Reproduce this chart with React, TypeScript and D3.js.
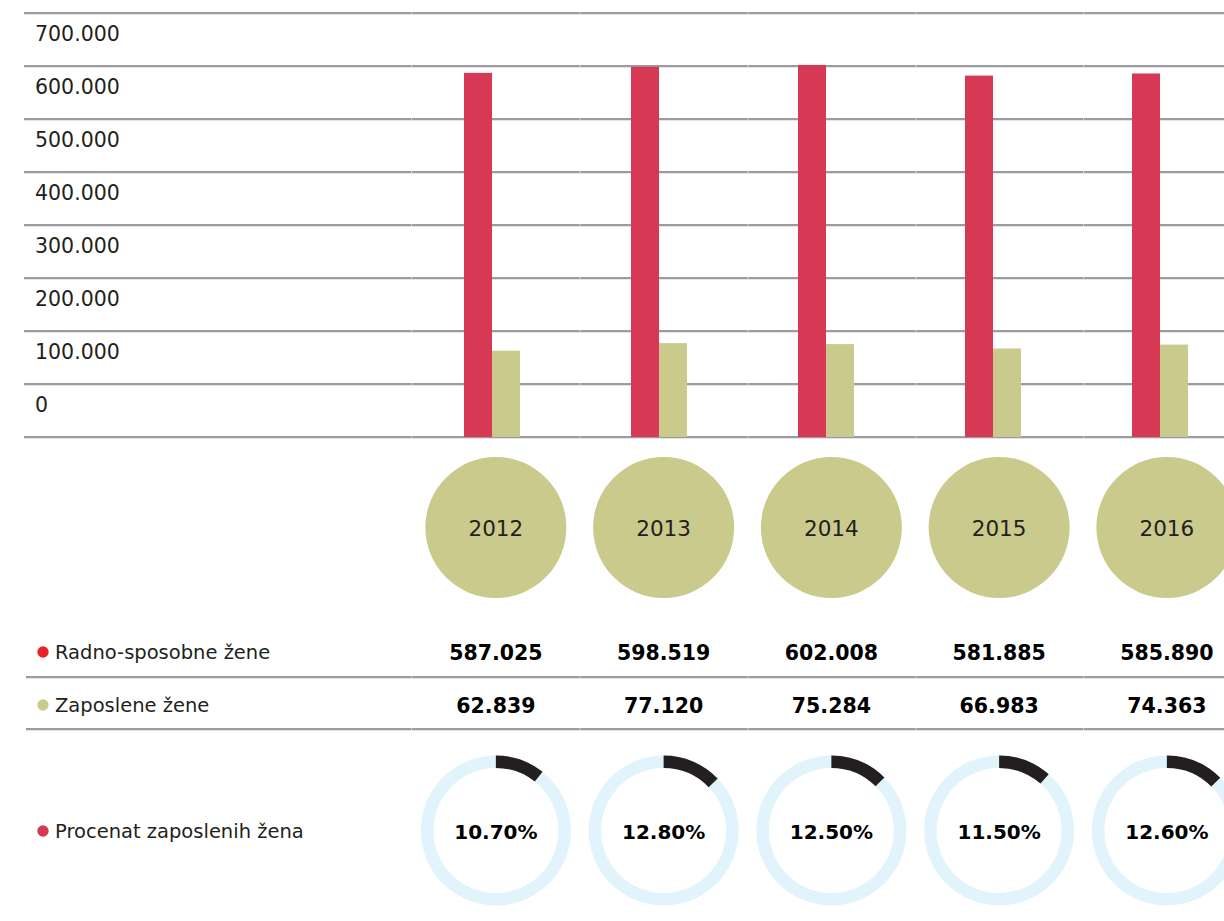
import React from "react";
import * as d3 from "d3";

const years = ["2012", "2013", "2014", "2015", "2016"];
const workingAge = [587025, 598519, 602008, 581885, 585890];
const employed = [62839, 77120, 75284, 66983, 74363];
const percentEmployed = [10.7, 12.8, 12.5, 11.5, 12.6];
const yTicks = [700000, 600000, 500000, 400000, 300000, 200000, 100000, 0, -100000];
const rowLabels = ["Radno-sposobne žene", "Zaposlene žene", "Procenat zaposlenih žena"];
const rowDotColors = ["#e8212b", "#c9ca8c", "#d63852"];

const W = 1224;
const H = 921;
const FONT = "'DejaVu Sans', sans-serif";
const GRID = "#9c9ca0";
const GRID_LIGHT = "#e4e4e6";
const RED = "#d73853";
const KHAKI = "#c9ca8c";
const RING = "#e1f3fb";
const DARK = "#231f20";

const loc = d3.formatLocale({ decimal: ",", thousands: ".", grouping: [3], currency: ["", ""] });
const fmt = loc.format(",");
const fmtPct = (v: number) => v.toFixed(2) + "%";

export default function App() {
  const y = d3.scaleLinear().domain([-100000, 700000]).range([437, 13]);
  const barBand = d3.scaleBand().domain(years).range([408.5, 408.5 + 167 * years.length]).padding(0);
  const col = d3.scaleBand().domain(years).range([412, 412 + 167.75 * years.length]).padding(0);
  const barW = 28;
  const base = y(-100000);

  const colBounds = [col.range()[0] - 1, ...years.map((yr) => (col(yr) as number) + col.bandwidth())];

  const hLine = (yy: number, x0: number, key: string) => (
    <g key={key}>
      <rect x={x0} y={yy - 1} width={W - x0} height={2} fill={GRID} />
      <rect x={x0} y={yy + 1} width={W - x0} height={1} fill={GRID_LIGHT} />
      {colBounds.map((b, i) => (
        <rect key={i} x={b} y={yy - 1} width={1} height={2} fill="#cfcfd2" />
      ))}
    </g>
  );

  const arcOuter = 75;
  const arcInner = 62.5;
  const ringArc = d3.arc<any>().innerRadius(arcInner).outerRadius(arcOuter).startAngle(0).endAngle(2 * Math.PI);
  const pctScale = d3.scaleLinear().domain([0, 100]).range([0, 2 * Math.PI]);

  const rowY = [652, 705, 831];
  const rowLines = [677, 729];

  return (
    <svg width={W} height={H} style={{ position: "absolute", left: 0, top: 0, background: "#fff" }}>
      <rect width={W} height={H} fill="#fff" />
      {/* gridlines */}
      {yTicks.map((t) => hLine(y(t), 24, "g" + t))}
      {/* axis labels */}
      {yTicks
        .filter((t) => t >= 0)
        .map((t) => (
          <text key={"l" + t} x={35} y={y(t) + 27.5} fontFamily={FONT} fontSize={20.5} fill={DARK}>
            {fmt(t)}
          </text>
        ))}
      {/* bars */}
      {years.map((yr, i) => {
        const c = (barBand(yr) as number) + barBand.bandwidth() / 2;
        return (
          <g key={"b" + yr}>
            <rect x={c - barW} y={y(workingAge[i])} width={barW} height={base - y(workingAge[i])} fill={RED} />
            <rect x={c} y={y(employed[i])} width={barW} height={base - y(employed[i])} fill={KHAKI} />
          </g>
        );
      })}
      {/* year circles */}
      {years.map((yr) => {
        const c = (col(yr) as number) + col.bandwidth() / 2;
        return (
          <g key={"c" + yr}>
            <circle cx={c} cy={527.5} r={70.5} fill={KHAKI} />
            <text x={c} y={535.5} textAnchor="middle" fontFamily={FONT} fontSize={21.5} fill={DARK}>
              {yr}
            </text>
          </g>
        );
      })}
      {/* table lines */}
      {rowLines.map((ly, i) => hLine(ly, 26, "r" + i))}
      {/* row labels */}
      {rowLabels.map((lab, i) => (
        <g key={"rl" + i}>
          <circle cx={43} cy={rowY[i]} r={5.7} fill={rowDotColors[i]} />
          <text x={55} y={rowY[i] + 7} fontFamily={FONT} fontSize={19.5} fill={DARK}>
            {lab}
          </text>
        </g>
      ))}
      {/* values */}
      {years.map((yr, i) => {
        const c = (col(yr) as number) + col.bandwidth() / 2;
        return (
          <g key={"v" + yr}>
            <text x={c} y={660} textAnchor="middle" fontFamily={FONT} fontWeight="bold" fontSize={20.5} fill="#000">
              {fmt(workingAge[i])}
            </text>
            <text x={c} y={713} textAnchor="middle" fontFamily={FONT} fontWeight="bold" fontSize={20.5} fill="#000">
              {fmt(employed[i])}
            </text>
          </g>
        );
      })}
      {/* donuts */}
      {years.map((yr, i) => {
        const c = (col(yr) as number) + col.bandwidth() / 2;
        const fg = d3.arc<any>().innerRadius(arcInner).outerRadius(arcOuter).startAngle(0).endAngle(pctScale(percentEmployed[i]));
        return (
          <g key={"d" + yr} transform={`translate(${c},${830.5})`}>
            <path d={ringArc({}) as string} fill={RING} />
            <path d={fg({}) as string} fill={DARK} />
            <text x={0} y={8} textAnchor="middle" fontFamily={FONT} fontWeight="bold" fontSize={20} fill="#000">
              {fmtPct(percentEmployed[i])}
            </text>
          </g>
        );
      })}
    </svg>
  );
}
